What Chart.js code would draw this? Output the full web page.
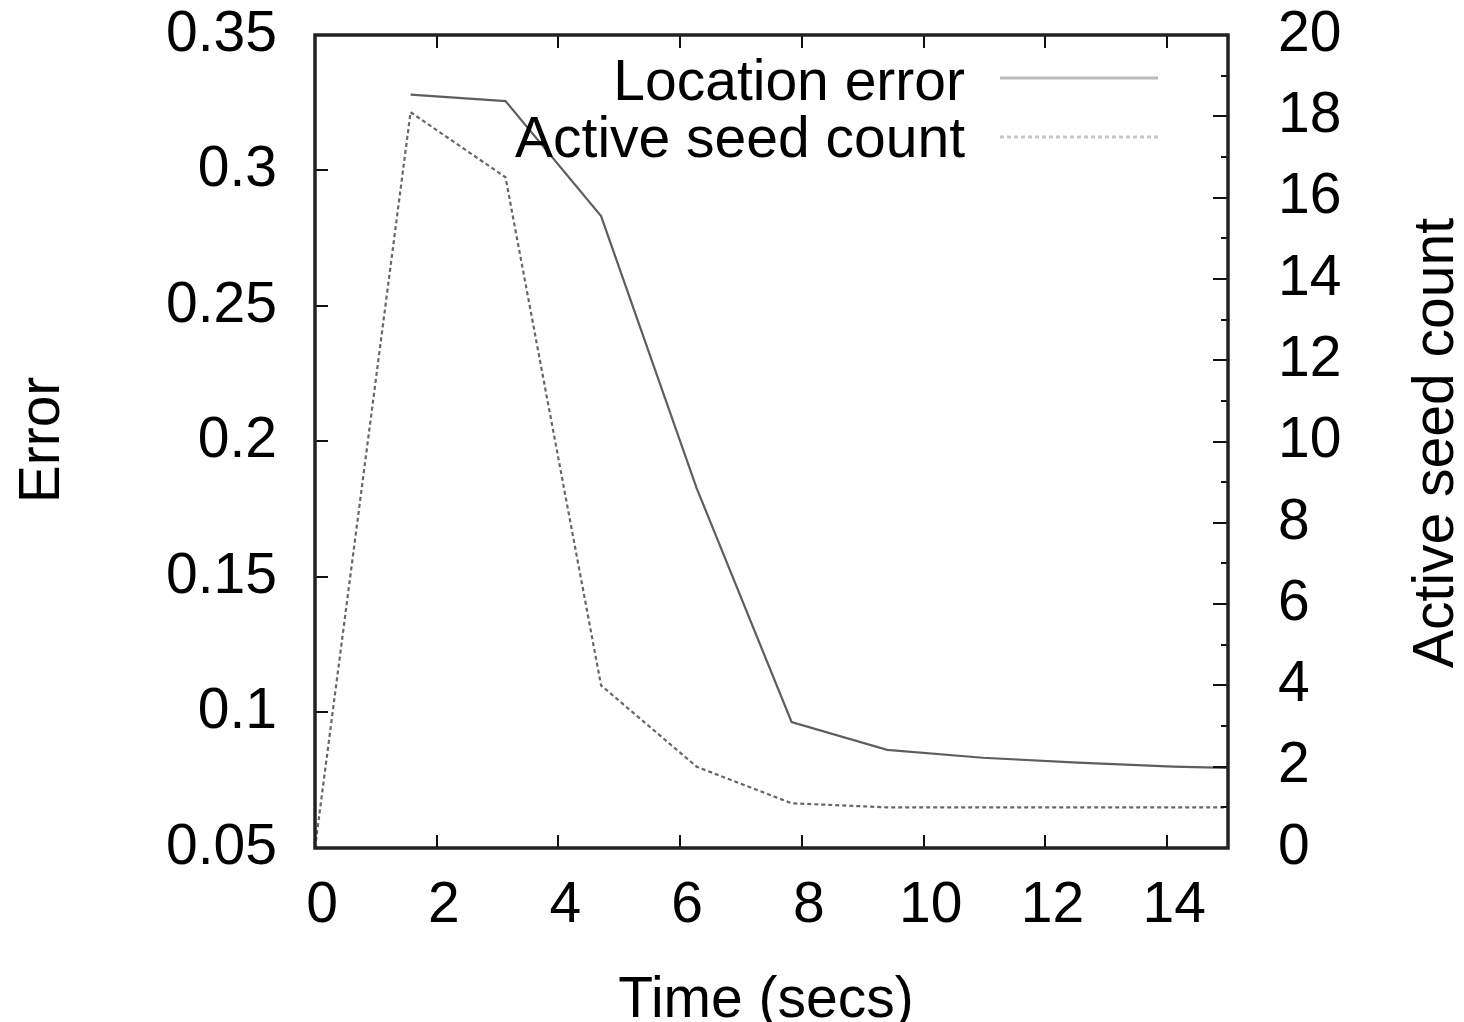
<!DOCTYPE html>
<html>
<head>
<meta charset="utf-8">
<title>Location error and active seed count</title>
<script src="https://cdn.jsdelivr.net/npm/chart.js@4/dist/chart.umd.min.js"></script>
<style>
  html, body { margin: 0; padding: 0; background: #fff; }
  #wrap { width: 1464px; height: 1022px; position: relative; }
</style>
</head>
<body>
<div id="wrap"><canvas id="chart"></canvas></div>
<script>
// data
const timeSecs = [0, 1.57, 3.13, 4.7, 6.27, 7.83, 9.4, 10.97, 12.53, 14.1, 15.67];
const locationError = [null, 0.328, 0.3256, 0.2832, 0.1828, 0.0965, 0.0862, 0.0833, 0.0815, 0.080, 0.0792];
const activeSeeds = [0, 18.1, 16.5, 4.0, 2.0, 1.1, 1, 1, 1, 1, 1];

const xTicks = [0, 2, 4, 6, 8, 10, 12, 14];
const errorTicks = [0.05, 0.1, 0.15, 0.2, 0.25, 0.3, 0.35];
const seedTicks = [0, 2, 4, 6, 8, 10, 12, 14, 16, 18, 20];
const seedMinorTicks = [1, 3, 5, 7, 9, 11, 13, 15, 17, 19];

const FONT = '"Liberation Sans", Arial, Helvetica, sans-serif';
const tickFont = { family: FONT, size: 57 };

// gnuplot look: frame, inward ticks, legend, axis titles
const gnuplotFrame = {
    id: 'gnuplotFrame',
    afterDatasetsDraw(chart) {
        const ctx = chart.ctx;
        const a = chart.chartArea;
        const sx = chart.scales.x, sy = chart.scales.y, sy2 = chart.scales.y2;

        ctx.save();
        ctx.strokeStyle = '#111';
        ctx.lineWidth = 2;
        ctx.beginPath();
        xTicks.forEach(v => {
            const px = Math.round(sx.getPixelForValue(v));
            ctx.moveTo(px, a.bottom); ctx.lineTo(px, a.bottom - 13);
            ctx.moveTo(px, a.top); ctx.lineTo(px, a.top + 13);
        });
        errorTicks.forEach(v => {
            const py = Math.round(sy.getPixelForValue(v));
            ctx.moveTo(a.left, py); ctx.lineTo(a.left + 13, py);
        });
        seedTicks.forEach(v => {
            const py = Math.round(sy2.getPixelForValue(v));
            ctx.moveTo(a.right, py); ctx.lineTo(a.right - 15, py);
        });
        seedMinorTicks.forEach(v => {
            const py = Math.round(sy2.getPixelForValue(v));
            ctx.moveTo(a.right, py); ctx.lineTo(a.right - 7, py);
        });
        ctx.stroke();

        // border
        ctx.strokeStyle = '#222';
        ctx.lineWidth = 3.5;
        ctx.strokeRect(a.left, a.top, a.right - a.left, a.bottom - a.top);
        ctx.restore();
    },
    afterDraw(chart) {
        const ctx = chart.ctx;
        ctx.save();
        ctx.fillStyle = '#000';
        ctx.font = '57px ' + FONT;

        // legend, text right aligned with sample to the right
        const ds = chart.data.datasets;
        const legendY = [100, 157];
        const sampleY = [78, 137];
        ds.forEach((d, i) => {
            ctx.textAlign = 'right';
            ctx.textBaseline = 'alphabetic';
            ctx.fillText(d.label, 965, legendY[i]);
            ctx.beginPath();
            ctx.strokeStyle = d.legendColor;
            ctx.lineWidth = 3;
            ctx.setLineDash(d.borderDash || []);
            ctx.moveTo(1000, sampleY[i]);
            ctx.lineTo(1158, sampleY[i]);
            ctx.stroke();
        });
        ctx.setLineDash([]);

        // axis titles
        ctx.textAlign = 'center';
        ctx.textBaseline = 'alphabetic';
        ctx.fillText('Time (secs)', 766, 1017);

        ctx.save();
        ctx.translate(59, 440);
        ctx.rotate(-Math.PI / 2);
        ctx.fillText('Error', 0, 0);
        ctx.restore();

        ctx.save();
        ctx.translate(1453, 443);
        ctx.rotate(-Math.PI / 2);
        ctx.fillText('Active seed count', 0, 0);
        ctx.restore();

        ctx.restore();
    }
};

function noPad(s) {
    s.paddingTop = 0;
    s.paddingBottom = 0;
    s.paddingLeft = 0;
    s.paddingRight = 0;
}

const chartEl = document.getElementById('chart');

new Chart(chartEl, {
    type: 'line',
    data: {
        datasets: [{
            label: 'Location error',
            data: timeSecs.map((t, i) => ({ x: t, y: locationError[i] })),
            yAxisID: 'y',
            borderColor: '#5e5e5e',
            legendColor: '#bbb',
            borderWidth: 2.2,
            pointRadius: 0,
            tension: 0,
            spanGaps: false
        }, {
            label: 'Active seed count',
            data: timeSecs.map((t, i) => ({ x: t, y: activeSeeds[i] })),
            yAxisID: 'y2',
            borderColor: '#666',
            legendColor: '#c8c8c8',
            borderWidth: 2.2,
            borderDash: [4, 3],
            pointRadius: 0,
            tension: 0
        }]
    },
    options: {
        responsive: true,
        maintainAspectRatio: false,
        animation: false,
        layout: { padding: { top: 35, left: 0, right: 0, bottom: 0 } },
        plugins: {
            legend: { display: false },
            tooltip: { enabled: false }
        },
        scales: {
            x: {
                type: 'linear',
                position: 'bottom',
                min: 0,
                max: 15,
                grid: { display: false, drawTicks: false },
                border: { display: false },
                afterBuildTicks: s => { s.ticks = xTicks.map(v => ({ value: v })); },
                afterFit: s => { s.height = 174; noPad(s); },
                ticks: {
                    font: tickFont,
                    color: '#000',
                    padding: 24,
                    labelOffset: 7,
                    maxRotation: 0,
                    callback: v => String(v)
                }
            },
            y: {
                position: 'left',
                min: 0.05,
                max: 0.35,
                grid: { display: false, drawTicks: false },
                border: { display: false },
                afterBuildTicks: s => { s.ticks = errorTicks.map(v => ({ value: v })); },
                afterFit: s => { s.width = 315; noPad(s); },
                ticks: {
                    font: tickFont,
                    color: '#000',
                    padding: 38,
                    callback: v => String(v)
                }
            },
            y2: {
                position: 'right',
                min: 0,
                max: 20,
                grid: { display: false, drawTicks: false },
                border: { display: false },
                afterBuildTicks: s => { s.ticks = seedTicks.map(v => ({ value: v })); },
                afterFit: s => { s.width = 236; noPad(s); },
                ticks: {
                    font: tickFont,
                    color: '#000',
                    padding: 50,
                    callback: v => String(v)
                }
            }
        }
    },
    plugins: [gnuplotFrame]
});
</script>
</body>
</html>
